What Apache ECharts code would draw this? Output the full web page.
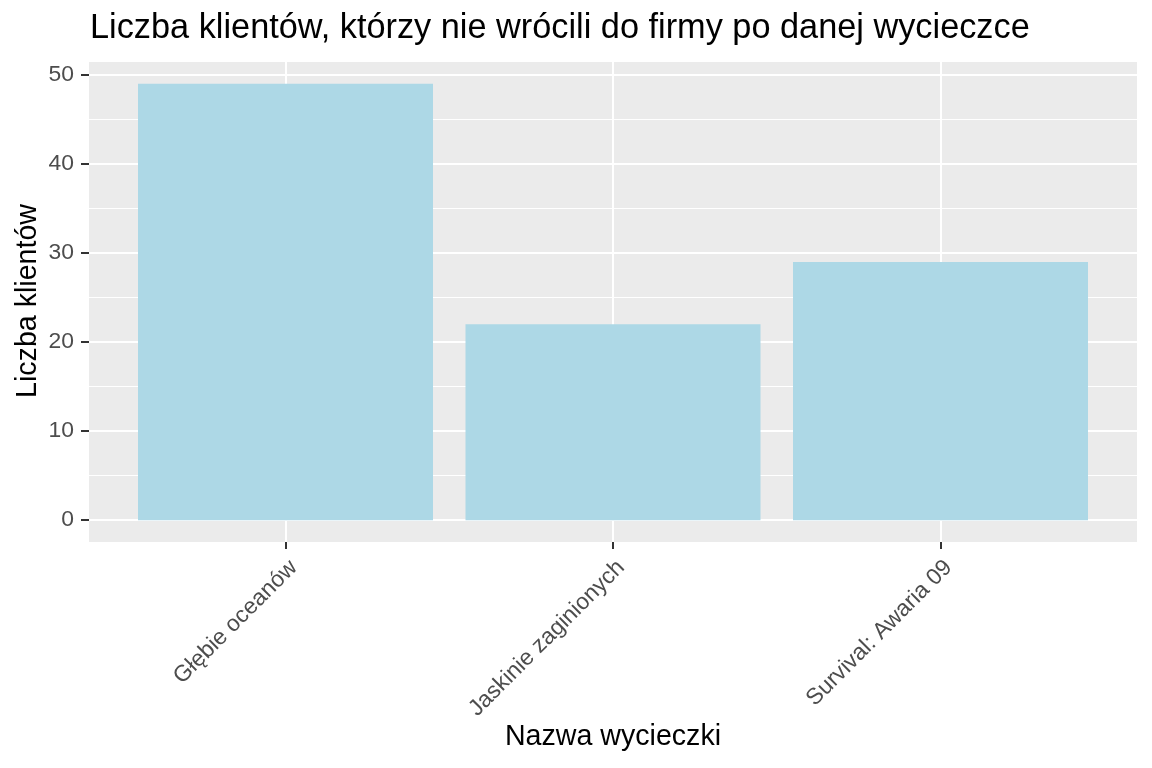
<!DOCTYPE html>
<html>
<head>
<meta charset="utf-8">
<script src="https://cdn.jsdelivr.net/npm/echarts@6/dist/echarts.min.js"></script>
<style>html,body{margin:0;padding:0;background:#fff}#c{width:1152px;height:768px}</style>
</head>
<body>
<div id="c"></div>
<script>
const categories = ['Głębie oceanów', 'Jaskinie zaginionych', 'Survival: Awaria 09'];
const values = [49, 22, 29];
const yTicks = [0, 10, 20, 30, 40, 50];
const yMinor = [5, 15, 25, 35, 45];
const xPositions = [1, 2, 3];
const titleText = 'Liczba klientów, którzy nie wrócili do firmy po danej wycieczce';
const xTitle = 'Nazwa wycieczki';
const yTitle = 'Liczba klientów';

const FONT = '"Liberation Sans", Arial, sans-serif';
const chart = echarts.init(document.getElementById('c'), null, {renderer: 'canvas'});
const yMin = -2.45, yMax = 51.45;
chart.setOption({
  animation: false,
  textStyle: {fontFamily: FONT},
  grid: {left: 89, right: 15, top: 62, bottom: 226, show: true, backgroundColor: '#EBEBEB', borderWidth: 0, containLabel: false},
  graphic: [
    {type: 'text', x: 90, y: 29, style: {text: titleText, font: '34.3px ' + FONT, fill: '#000', textAlign: 'left', textVerticalAlign: 'middle'}},
    {type: 'text', x: 613, y: 737, style: {text: xTitle, font: '28.6px ' + FONT, fill: '#000', textAlign: 'center', textVerticalAlign: 'middle'}},
    {type: 'text', x: 28, y: 301, rotation: Math.PI / 2, style: {text: yTitle, font: '28.6px ' + FONT, fill: '#000', textAlign: 'center', textVerticalAlign: 'middle'}}
  ],
  xAxis: {
    type: 'value', min: 0.4, max: 3.6,
    axisLine: {show: false, onZero: false},
    axisTick: {show: true, customValues: xPositions, length: 7, lineStyle: {color: '#333333', width: 2}},
    axisLabel: {customValues: xPositions, rotate: 45, margin: 14, align: 'right', verticalAlign: 'top', color: '#4D4D4D', fontSize: 22.9, fontFamily: FONT,
      formatter: v => categories[Math.round(v) - 1] || ''},
    splitLine: {show: true, lineStyle: {color: '#FFFFFF', width: 2}}
  },
  yAxis: [{
    type: 'value', min: yMin, max: yMax,
    axisLine: {show: false},
    axisTick: {show: true, customValues: yTicks, length: 8, lineStyle: {color: '#333333', width: 2}},
    axisLabel: {customValues: yTicks, margin: 15, color: '#4D4D4D', fontSize: 22.9, fontFamily: FONT},
    splitLine: {show: true, lineStyle: {color: '#FFFFFF', width: 2}}
  }, {
    type: 'value', min: yMin, max: yMax, position: 'left',
    axisLine: {show: false},
    axisTick: {show: false, customValues: yMinor},
    axisLabel: {show: false, customValues: yMinor},
    splitLine: {show: true, lineStyle: {color: '#FFFFFF', width: 1}}
  }],
  series: [{
    type: 'bar', yAxisIndex: 0,
    data: xPositions.map((x, i) => [x, values[i]]),
    barWidth: 295,
    itemStyle: {color: '#ADD8E6'}
  }]
});
</script>
</body>
</html>
